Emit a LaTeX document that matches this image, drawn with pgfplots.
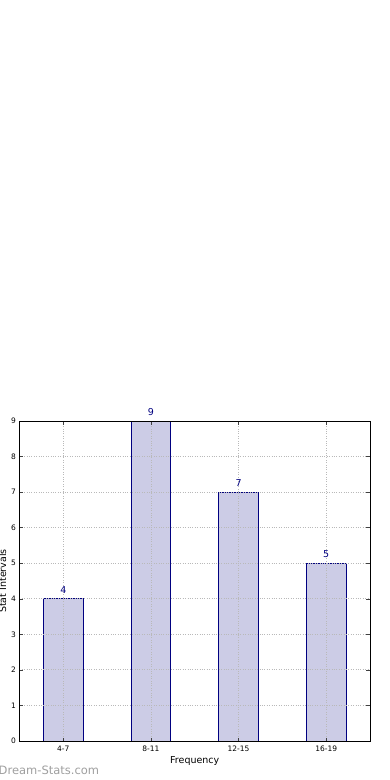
\documentclass[border=0pt]{standalone}
\usepackage{pgfplots}
\pgfplotsset{compat=1.18}
\usepackage{fontspec}
\setmainfont{DejaVu Sans}
\definecolor{navy}{RGB}{0,0,128}
\definecolor{barfill}{RGB}{204,204,230}
\definecolor{wm}{RGB}{160,160,160}
\begin{document}
\begin{tikzpicture}
\useasboundingbox (0pt,0pt) rectangle (390pt,780pt);
\fill[white] (0pt,0pt) rectangle (390pt,780pt);
\clip (0pt,0pt) rectangle (390pt,780pt);
\begin{axis}[
  ybar, bar width=0.45,
  at={(19.5pt,39pt)}, anchor=south west,
  scale only axis, width=350.5pt, height=320pt,
  xmin=-0.5, xmax=3.5, ymin=0, ymax=9,
  ytick={0,1,2,3,4,5,6,7,8,9},
  xtick={0,1,2,3}, xticklabels={4-7,8-11,12-15,16-19},
  tick align=inside, xtick align=inside, ytick align=inside,
  major tick length=3.5pt,
  tick style={black!75, line width=0.5pt},
  axis line style={black, line width=0.8pt},
  /pgf/number format/assume math mode=true,
  ticklabel style={font=\fontsize{7.5}{8}\selectfont},
  xticklabel style={yshift=-1pt},
  grid=major,
  major grid style={gray!55, dotted, line width=0.8pt},
  xlabel={Frequency}, ylabel={Stat Intervals},
  label style={font=\fontsize{9.5}{11}\selectfont},
  xlabel style={at={(axis description cs:0.5,-0.064)}, anchor=center},
  ylabel style={at={(axis description cs:-0.048,0.5)}, anchor=center},
  nodes near coords,
  nodes near coords style={text=navy, font=\fontsize{9.5}{11}\selectfont, yshift=1.5pt},
  axis on top,
]
\addplot[draw=navy, fill=barfill, line width=0.7pt] coordinates {(0,4) (1,9) (2,7) (3,5)};
\end{axis}
\node[anchor=west, text=wm, font=\fontsize{11.5}{13}\selectfont, inner sep=0pt] at (-1.5pt,10pt) {Dream-Stats.com};
\end{tikzpicture}
\end{document}
